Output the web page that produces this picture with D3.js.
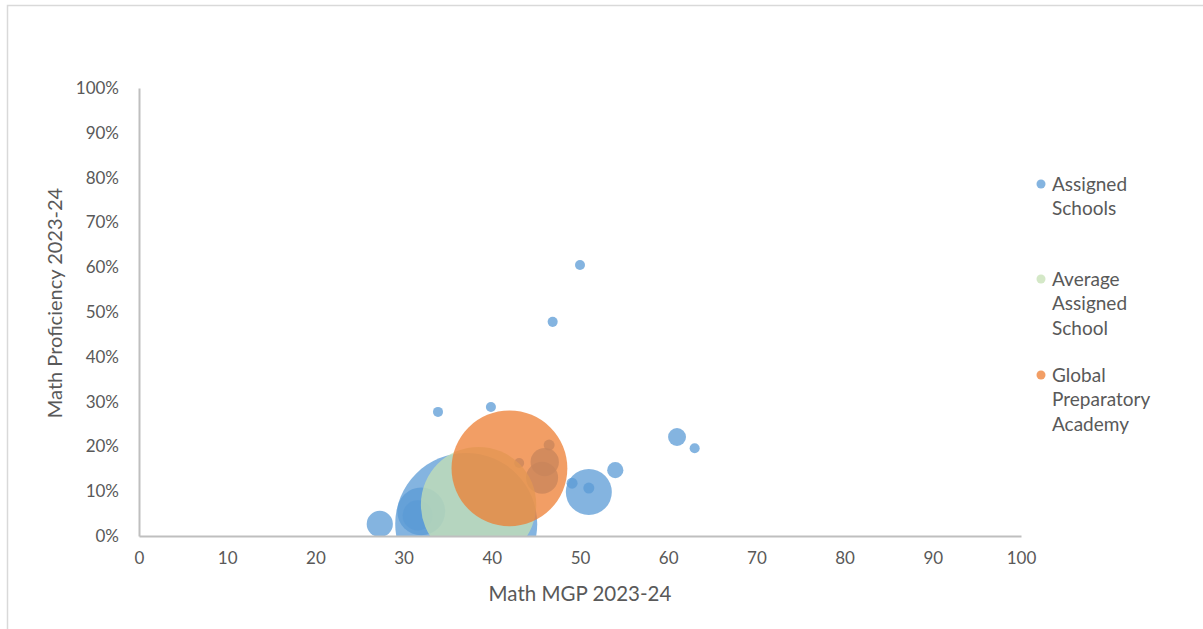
<!DOCTYPE html>
<html>
<head>
<meta charset="utf-8">
<script src="https://cdn.jsdelivr.net/npm/d3@7"></script>
<style>
  body { margin: 0; background: #fff; }
  svg { display: block; font-family: Lato, "Open Sans", sans-serif; }
</style>
</head>
<body>
<svg id="chart" width="1203" height="629"></svg>
<script>
'use strict';

// Assigned schools: Math MGP, Math proficiency (%), bubble size
const assignedX = [27.3, 37.1, 32.0, 31.6, 33.9, 39.9, 46.9, 50.0, 61.0, 63.0, 54.0, 51.0, 49.1, 51.0, 46.5, 43.1, 46.0, 45.7];
const assignedY = [2.7, 2.7, 5.5, 4.6, 27.7, 28.8, 47.8, 60.5, 22.1, 19.6, 14.7, 9.8, 11.8, 10.7, 20.3, 16.3, 16.5, 13.0];
const assignedS = [34, 1000, 114, 45, 5, 5, 5, 5, 16, 5, 13, 105, 6, 6, 6, 5, 40, 51];

const averageX = [38.5];
const averageY = [7.0];
const averageS = [660];

const globalX = [42.0];
const globalY = [15.1];
const globalS = [665];

const xTicks = [0, 10, 20, 30, 40, 50, 60, 70, 80, 90, 100];
const yTicks = [0, 10, 20, 30, 40, 50, 60, 70, 80, 90, 100];

const series = [
  { name: ['Assigned', 'Schools'], color: '#5B9BD5', xs: assignedX, ys: assignedY, ss: assignedS },
  { name: ['Average', 'Assigned', 'School'], color: '#C5E0B4', xs: averageX, ys: averageY, ss: averageS },
  { name: ['Global', 'Preparatory', 'Academy'], color: '#ED7D31', xs: globalX, ys: globalY, ss: globalS }
];

const svg = d3.select('#chart');
const plot = { left: 139, right: 1021, top: 88, bottom: 536 };

const x = d3.scaleLinear().domain([0, 100]).range([plot.left, plot.right]);
const y = d3.scaleLinear().domain([0, 100]).range([plot.bottom, plot.top]);
const r = d3.scaleSqrt().domain([0, 1000]).range([0, 71]);

/* chart border */
svg.append('rect')
  .attr('x', 7.5).attr('y', 5.5).attr('width', 1205).attr('height', 640)
  .attr('fill', 'none').attr('stroke', '#d9d9d9').attr('stroke-width', 1.5);

svg.append('clipPath').attr('id', 'plot-clip')
  .append('rect')
  .attr('x', plot.left).attr('y', plot.top)
  .attr('width', plot.right - plot.left).attr('height', plot.bottom - plot.top);

/* bubbles */
const bubbles = svg.append('g').attr('clip-path', 'url(#plot-clip)');
series.forEach(s => {
  const pts = s.xs.map((v, i) => ({ x: v, y: s.ys[i], s: s.ss[i] }));
  bubbles.append('g').selectAll('circle').data(pts).join('circle')
    .attr('cx', d => x(d.x))
    .attr('cy', d => y(d.y))
    .attr('r', d => r(d.s))
    .attr('fill', s.color)
    .attr('fill-opacity', 0.75);
});

/* axes */
const xAxis = svg.append('g').attr('transform', `translate(0,${plot.bottom})`)
  .call(d3.axisBottom(x).tickValues(xTicks).tickSize(0).tickPadding(16));
const yAxis = svg.append('g').attr('transform', `translate(${plot.left},0)`)
  .call(d3.axisLeft(y).tickValues(yTicks).tickSize(0).tickPadding(20).tickFormat(d => d + '%'));

[xAxis, yAxis].forEach(a => {
  a.select('.domain').attr('stroke', '#bfbfbf').attr('stroke-width', 2);
  a.selectAll('text').attr('fill', '#595959').style('font-size', '17px').style('font-family', 'Lato, sans-serif');
});

/* axis titles */
svg.append('text')
  .attr('x', 580).attr('y', 601)
  .attr('text-anchor', 'middle').attr('fill', '#595959')
  .style('font-size', '20.5px')
  .text('Math MGP 2023-24');

svg.append('text')
  .attr('transform', 'translate(62,303) rotate(-90)')
  .attr('text-anchor', 'middle').attr('fill', '#595959')
  .style('font-size', '20px')
  .text('Math Proficiency 2023-24');

/* legend */
const legendTop = [184, 279, 375];
const legend = svg.append('g');
series.forEach((s, i) => {
  legend.append('circle')
    .attr('cx', 1041).attr('cy', legendTop[i]).attr('r', 4.5)
    .attr('fill', s.color).attr('fill-opacity', 0.75);
  s.name.forEach((line, j) => {
    legend.append('text')
      .attr('x', 1052).attr('y', legendTop[i] + j * 24.7)
      .attr('dy', '0.35em').attr('fill', '#595959')
      .style('font-size', '19px')
      .text(line);
  });
});
</script>
</body>
</html>
